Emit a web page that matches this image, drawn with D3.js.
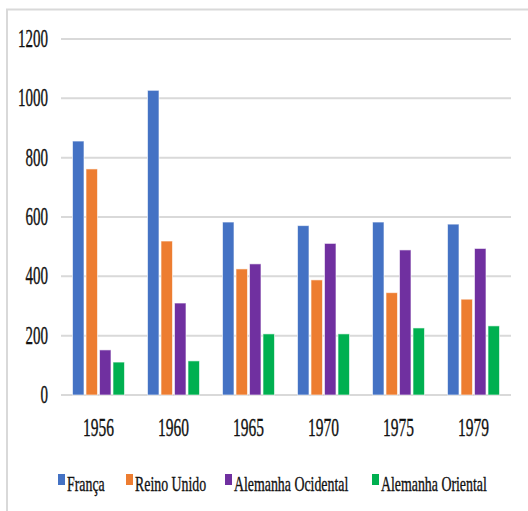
<!DOCTYPE html>
<html>
<head>
<meta charset="utf-8">
<script src="https://cdn.jsdelivr.net/npm/d3@7"></script>
<style>
  body { margin: 0; background: #fff; }
  svg { display: block; }
  text { font-family: 'Liberation Serif', 'Times New Roman', serif; fill: #111; stroke: #111; stroke-width: 0.35px; }
</style>
</head>
<body>
<svg class="bar_chart"></svg>
<script>
//chart values
var years = ["1956", "1960", "1965", "1970", "1975", "1979"];
var series = ["França", "Reino Unido", "Alemanha Ocidental", "Alemanha Oriental"];
var franca = [856, 1027, 583, 571, 583, 576];
var reinoUnido = [762, 519, 425, 388, 345, 323];
var alemanhaOcidental = [152, 310, 442, 511, 489, 494];
var alemanhaOriental = [111, 115, 206, 206, 226, 233];
var yTicks = [0, 200, 400, 600, 800, 1000, 1200];
var colors = ["#4472C4", "#ED7D31", "#7030A0", "#00B050"];

var values = [franca, reinoUnido, alemanhaOcidental, alemanhaOriental];
var data = years.map(function(y, i) {
    return { year: y, vals: series.map(function(s, j) { return { key: s, value: values[j][i], idx: j }; }) };
});

var width = 528, height = 511;
var margin = { top: 39, left: 61, right: 17, bottom: 116 };
var innerW = width - margin.left - margin.right;
var innerH = height - margin.top - margin.bottom;

var svg = d3.select(".bar_chart")
    .attr("width", width)
    .attr("height", height);

//outer frame (left + top only)
svg.append("path")
    .attr("d", "M7," + height + "V9.5H" + width)
    .style("fill", "none")
    .style("stroke", "#d9d9d9")
    .style("stroke-width", 2);

var g = svg.append("g")
    .attr("transform", "translate(" + margin.left + "," + margin.top + ")");

var x0 = d3.scaleBand().domain(years).range([0, innerW]).paddingInner(0.307).paddingOuter(0.1535);
var x1 = d3.scaleBand().domain(series).range([0, x0.bandwidth()]).paddingInner(0.15);
var y = d3.scaleLinear().domain([0, 1200]).range([innerH, 0]);

//gridlines
g.append("g").selectAll("line")
    .data(yTicks)
    .enter()
    .append("line")
    .attr("x1", 0)
    .attr("x2", innerW)
    .attr("y1", function(d) { return y(d); })
    .attr("y2", function(d) { return y(d); })
    .style("stroke", "#d9d9d9")
    .style("stroke-width", 2);

//y tick labels, condensed serif
g.append("g").selectAll("text")
    .data(yTicks)
    .enter()
    .append("text")
    .attr("transform", function(d) { return "translate(-13," + (y(d) + 8) + ") scale(0.6,1)"; })
    .attr("text-anchor", "end")
    .style("font-size", "25px")
    .text(function(d) { return d; });

//bars
var groups = g.append("g").selectAll("g")
    .data(data)
    .enter()
    .append("g")
    .attr("transform", function(d) { return "translate(" + x0(d.year) + ",0)"; });

groups.selectAll("rect")
    .data(function(d) { return d.vals; })
    .enter()
    .append("rect")
    .attr("x", function(d) { return x1(d.key); })
    .attr("width", x1.bandwidth())
    .attr("y", function(d) { return y(d.value); })
    .attr("height", function(d) { return innerH - y(d.value); })
    .style("fill", function(d) { return colors[d.idx]; })
    .style("stroke", "rgba(255,255,255,0.6)")
    .style("stroke-width", 1);

//x labels
g.append("g").selectAll("text")
    .data(years)
    .enter()
    .append("text")
    .attr("transform", function(d) { return "translate(" + (x0(d) + x0.bandwidth() / 2) + "," + (innerH + 41) + ") scale(0.62,1)"; })
    .attr("text-anchor", "middle")
    .style("font-size", "25px")
    .text(function(d) { return d; });

//legend
var legendX = d3.scaleOrdinal().domain(series).range([58, 126, 225, 372]);
var legend = svg.append("g").selectAll("g")
    .data(series)
    .enter()
    .append("g")
    .attr("transform", function(d) { return "translate(" + legendX(d) + ",474)"; });

legend.append("rect")
    .attr("width", 7)
    .attr("height", 11)
    .style("fill", function(d, i) { return colors[i]; })
    .style("stroke", "none");

legend.append("text")
    .attr("transform", "translate(9,17) scale(0.66,1)")
    .style("font-size", "21px")
    .text(function(d) { return d; });
</script>
</body>
</html>
